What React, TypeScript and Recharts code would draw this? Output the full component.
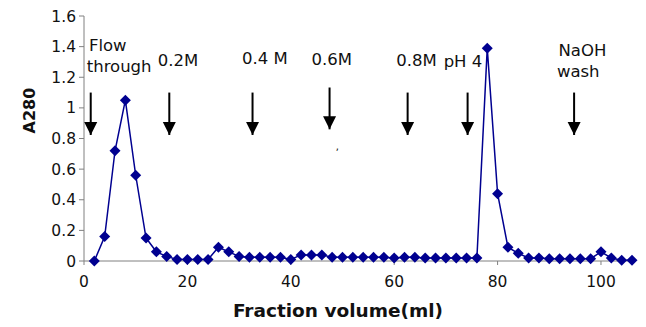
import { ComposedChart, Line, XAxis, YAxis, ReferenceLine, ReferenceDot } from "recharts";

// fraction volume (ml) and absorbance readings
const fractions = [
  2, 4, 6, 8, 10, 12, 14, 16, 18, 20, 22, 24, 26, 28, 30, 32, 34, 36, 38, 40,
  42, 44, 46, 48, 50, 52, 54, 56, 58, 60, 62, 64, 66, 68, 70, 72, 74, 76, 78, 80,
  82, 84, 86, 88, 90, 92, 94, 96, 98, 100, 102, 104, 106,
];
const a280 = [
  0, 0.16, 0.72, 1.05, 0.56, 0.15, 0.06, 0.03, 0.01, 0.01, 0.01, 0.01, 0.09, 0.06, 0.03, 0.024, 0.024, 0.024, 0.024, 0.01,
  0.04, 0.04, 0.04, 0.024, 0.024, 0.024, 0.024, 0.024, 0.024, 0.02, 0.024, 0.024, 0.02, 0.02, 0.02, 0.02, 0.02, 0.02, 1.39, 0.44,
  0.09, 0.05, 0.02, 0.02, 0.015, 0.015, 0.015, 0.015, 0.015, 0.06, 0.02, 0.005, 0.005,
];

const xTicks = [0, 20, 40, 60, 80, 100];
const yTicks = [0, 0.2, 0.4, 0.6, 0.8, 1, 1.2, 1.4, 1.6];

// step arrows: x position, top and tip of arrow (A280 units)
const arrowX = [1.3, 16.5, 32.6, 47.5, 62.6, 74.2, 94.8];
const arrowTop = [1.1, 1.1, 1.1, 1.133, 1.1, 1.1, 1.1];
const arrowTip = [0.823, 0.823, 0.823, 0.86, 0.823, 0.823, 0.823];

// step labels (text centre)
const noteText = ["Flow", "through", "0.2M", "0.4 M", "0.6M", "0.8M", "pH 4", "NaOH", "wash", ","];
const noteX = [4.6, 6.8, 18.2, 35.0, 47.9, 64.3, 73.3, 96.4, 95.6, 49.0];
const noteY = [1.405, 1.27, 1.31, 1.323, 1.316, 1.31, 1.3, 1.375, 1.238, 0.75];

const data = fractions.map((f, i) => ({ f, v: a280[i] }));

const NAVY = "#000090";
const FONT = "'DejaVu Sans', sans-serif";

const Diamond = (props: any) => {
  const { cx, cy } = props;
  if (cx == null || cy == null) return null;
  const s = 5.5;
  return (
    <polygon
      points={`${cx},${cy - s} ${cx + s},${cy} ${cx},${cy + s} ${cx - s},${cy}`}
      fill={NAVY}
    />
  );
};

const ArrowHead = (props: any) => {
  const { cx, cy } = props;
  return <polygon points={`${cx},${cy} ${cx - 6.5},${cy - 13} ${cx + 6.5},${cy - 13}`} fill="#000" />;
};

const makeNote = (txt: string) => (props: any) => {
  const { cx, cy } = props;
  return (
    <text x={cx} y={cy} textAnchor="middle" dominantBaseline="central" fontFamily={FONT} fontSize={txt === "," ? 10 : 16.5} fill="#111">
      {txt}
    </text>
  );
};

export default function App() {
  return (
    <div style={{ position: "absolute", left: 0, top: 0, background: "#fff" }}>
      <ComposedChart width={646} height={327} data={data} margin={{ top: 16, right: 14, left: 0, bottom: 0 }}>
        <XAxis
          dataKey="f"
          type="number"
          domain={[0, 106]}
          ticks={xTicks}
          height={66}
          stroke="#808080"
          tickSize={4}
          tickMargin={11}
          tick={{ fill: "#111", fontSize: 15.5, fontFamily: FONT }}
          label={{
            content: (p: any) => (
              <text
                x={p.viewBox.x + p.viewBox.width / 2 - 20}
                y={p.viewBox.y + 56}
                textAnchor="middle"
                fontFamily={FONT}
                fontWeight="bold"
                fontSize={18.5}
                fill="#111"
              >
                Fraction volume(ml)
              </text>
            ),
          }}
        />
        <YAxis
          type="number"
          domain={[0, 1.6]}
          ticks={yTicks}
          width={84}
          stroke="#808080"
          tickSize={5}
          tickMargin={3}
          tick={{ fill: "#111", fontSize: 15.5, fontFamily: FONT }}
          label={{
            content: (p: any) => {
              const x = 29;
              const y = p.viewBox.y + 94.5;
              return (
                <text
                  x={x}
                  y={y}
                  transform={`rotate(-90 ${x} ${y})`}
                  textAnchor="middle"
                  dominantBaseline="central"
                  fontFamily={FONT}
                  fontWeight="bold"
                  fontSize={16}
                  fill="#111"
                >
                  A280
                </text>
              );
            },
          }}
        />
        {arrowX.map((x, i) => (
          <ReferenceLine
            key={`al${i}`}
            segment={[
              { x, y: arrowTop[i] },
              { x, y: arrowTip[i] },
            ]}
            stroke="#000"
            strokeWidth={2}
            ifOverflow="visible"
          />
        ))}
        {arrowX.map((x, i) => (
          <ReferenceDot key={`ah${i}`} x={x} y={arrowTip[i]} ifOverflow="visible" shape={ArrowHead} />
        ))}
        {noteText.map((t, i) => (
          <ReferenceDot key={`n${i}`} x={noteX[i]} y={noteY[i]} ifOverflow="visible" shape={makeNote(t)} />
        ))}
        <Line
          dataKey="v"
          type="linear"
          stroke={NAVY}
          strokeWidth={1.5}
          dot={<Diamond />}
          activeDot={false}
          isAnimationActive={false}
        />
      </ComposedChart>
    </div>
  );
}
